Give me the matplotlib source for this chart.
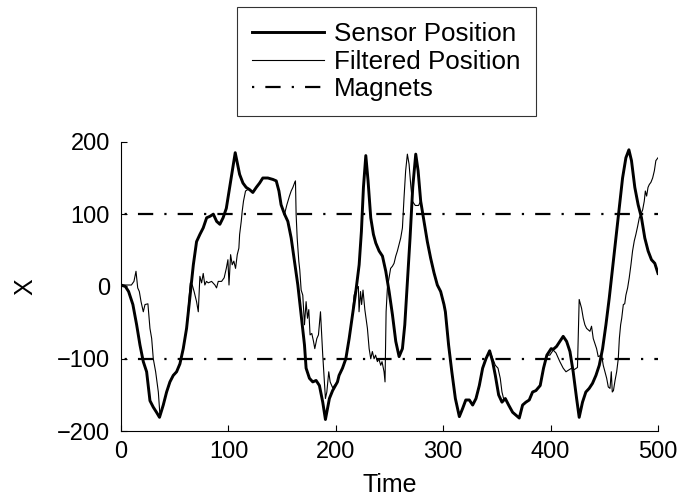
import matplotlib
matplotlib.use("Agg")
import matplotlib.pyplot as plt
from matplotlib.lines import Line2D

plt.rcParams['font.family'] = ['Liberation Sans', 'DejaVu Sans']
plt.rcParams['lines.scale_dashes'] = False

# Raw sensor readings (time, X)
sensor_t = [0, 4, 7, 11, 14.5, 17.6, 20.7, 23.8, 26.9, 30, 33, 35.8, 39.3, 42.4, 45.5,
            48.6, 51.7, 54.8, 57.9, 61, 64, 67.3, 70.3, 73.4, 76.5, 79.7, 82.8, 85.9, 89,
            92, 95, 98, 102, 106.3, 110.4, 113.5, 116.5, 119.6, 122.7, 125.9, 129, 132,
            136.7, 141.4, 144.5, 147, 149, 152.2, 155.3, 158.4, 161.5, 164.6, 167.7, 170.8,
            172.3, 175.4, 178.5, 181.6, 184.7, 187.8, 190.3, 194, 197, 201.5, 203, 206.2,
            209.3, 212.4, 215.5, 218.6, 221.7, 223.8, 225.7, 227.9, 230, 232.5, 235, 237.2,
            240.3, 243.4, 246.5, 249.6, 252.7, 255.8, 258.9, 262, 264.2, 266.6, 269.1, 271.6,
            274.4, 276.6, 279, 282.1, 285.2, 288.3, 291.4, 294.5, 297.6, 300.7, 302, 305,
            308, 311.3, 315, 318, 321, 324.3, 327.4, 330.5, 333.6, 336.7, 339.8, 343.2, 346,
            348.5, 351.6, 354.7, 357.8, 360.9, 364.6, 367.7, 370.8, 373.9, 377, 380.1, 383.2,
            386.3, 390.3, 393.4, 396.5, 400.5, 402.4, 405.5, 408.6, 411.7, 414.9, 418, 421,
            424.2, 426.6, 429.7, 432.8, 435.9, 439, 442.2, 445.3, 448.4, 451.5, 454.6, 457.7,
            460.8, 463.9, 467, 470.1, 472.9, 475.3, 478.4, 481.5, 484.6, 487.7, 490.8, 493.9,
            497, 500]
sensor_x = [2, 0, -7, -25, -53, -81, -104, -118, -158, -167, -174, -181, -164, -146, -132,
            -123, -118, -107, -86, -58, -16, 30, 62, 72, 81, 95, 97, 100, 90,
            86, 95, 108, 145, 185, 155, 143, 137, 134, 130, 137, 143, 150,
            150, 148, 146, 132, 113, 100, 90, 67, 35, 2, -39, -81,
            -113, -127, -132, -130, -137, -160, -184, -155, -144, -132, -123, -113,
            -100, -72, -39, -7, 30, 76, 137, 181, 146, 95, 72, 60,
            49, 42, 21, -7, -39, -76, -97, -86, -53, 7, 67, 137,
            183, 160, 118, 90, 62, 39, 19, 2, -7, -25, -35, -81,
            -118, -155, -180, -169, -157, -157, -164, -155, -137, -113, -100, -89, -104,
            -123, -150, -160, -155, -164, -174, -178, -182, -164, -160, -157, -146,
            -144, -137, -113, -95, -86, -87, -83, -76, -69, -76, -90, -118,
            -155, -181, -160, -146, -141, -134, -123, -109, -86, -53, -16, 25,
            67, 109, 150, 178, 189, 174, 137, 113, 95, 67, 49, 37,
            32, 18]

# Filtered estimate (time, X)
filtered_t = [0, 9.6, 12, 13.9, 15.5, 17, 18.6, 20.7, 22.3, 25, 26.9, 28.5, 30, 32.2, 34.7,
              36.2, 39.3, 42.4, 45.5, 48.6, 51.7, 54.8, 57.9, 61, 62, 64.5, 66.3, 68, 70.3,
              71.9, 73.4, 75, 76.5, 78, 79.5, 81.2, 84.3, 87.4, 88.9, 90.5, 93.6, 96, 98,
              99.5, 100.5, 102, 103.5, 105, 106.6, 108.2, 109.7, 110.4, 111.9, 112.8, 114,
              115.9, 118, 119.6, 122.7, 125.9, 129, 132, 136.7, 141.4, 144.5, 147, 149,
              152.2, 154.4, 156.8, 158.4, 160, 161.5, 162.4, 163, 164, 165.5, 166.4, 167.7,
              169.2, 170.8, 172.3, 173.6, 174.8, 176, 177.6, 179.2, 180.4, 182.3, 183.8,
              185.7, 186.6, 187.8, 189.1, 190.3, 191.6, 193.4, 194.7, 197, 201.5, 203, 206.2,
              209.3, 212.4, 215.5, 217, 218.6, 220, 221, 221.6, 223, 224, 225.3, 227, 229.4,
              231, 232.5, 234, 235.6, 237, 238.7, 240, 241.8, 243, 244.9, 245.8, 246.8, 248,
              249.6, 251, 252.7, 254.2, 255.8, 257.3, 258.9, 260.4, 262, 263.5, 265, 266.6,
              268.2, 269.7, 271.2, 274, 277, 279, 282.1, 285.2, 288.3, 291.4, 294.5, 297.6,
              300.7, 302, 305, 308, 311.3, 315, 318, 321, 324.3, 327.4, 330.5, 333.6, 336.7,
              339.8, 343.2, 345.4, 348.5, 351, 353.1, 354.7, 356.2, 357.8, 360.9, 364.6,
              367.7, 370.8, 373.9, 377, 380.1, 383.2, 386.3, 390.3, 393.4, 396.5, 399.3,
              402.4, 405, 408.6, 411.7, 414.3, 416.4, 419.5, 422, 425, 426.6, 428.8, 430.4,
              431.9, 433.5, 436.6, 438.1, 439.7, 442.8, 444.3, 447.5, 449, 450.6, 452.2,
              453.7, 455.3, 456.5, 457.4, 458.5, 460, 461.5, 463, 464, 465.2, 466.2, 467.7,
              469, 470.1, 471.7, 473.2, 474.8, 476.3, 477.9, 479.4, 481, 482.6, 484.1, 485.7,
              487.2, 488.2, 489.4, 490.7, 491.9, 493.4, 495, 496.6, 498, 500]
filtered_x = [2, 2, 7, 21, -2, -7, -21, -35, -25, -24, -58, -72, -100, -118, -146,
              -178, -164, -146, -132, -123, -118, -107, -86, -58, -40, 5, 2, -7, -21,
              -35, 14, 5, 18, 2, 7, 5, 7, 2, -2, 7, 7, 12, 25,
              37, 2, 44, 30, 35, 25, 44, 53, 72, 90, 104, 118,
              132, 134, 134, 130, 137, 143, 150, 150, 148, 146, 132, 113,
              100, 113, 125, 132, 137, 143, 146, 100, 67, 35, 23, -5,
              -12, -53, -21, -44, -32, -67, -65, -76, -86, -72, -67,
              -35, -62, -95, -127, -155, -146, -118, -132, -140, -132, -123, -113,
              -100, -72, -39, -12, -5, -2, 0, -35, -7, -25, -5, -32, -58,
              -86, -100, -90, -100, -95, -104, -100, -109, -104, -118, -132, -35, -2,
              12, 25, 28, 32, 42, 49, 58, 67, 81, 123, 160, 183,
              169, 141, 118, 112, 112, 118, 90, 62, 39, 19, 2, -7,
              -25, -35, -81, -118, -155, -180, -169, -157, -157, -164, -155, -137, -113,
              -100, -89, -97, -109, -113, -127, -146, -155, -155, -164, -174,
              -178, -182, -164, -160, -157, -146, -144, -137, -113, -95, -95,
              -88, -92, -104, -113, -118, -116, -113, -115, -112, -18, -30, -44,
              -53, -58, -62, -55, -72, -86, -97, -95, -109, -118, -127,
              -139, -141, -118, -146, -144, -130, -118, -100, -72, -53, -44, -25,
              -24, -12, -2, 12, 30, 49, 63, 72, 83, 95, 100, 106,
              118, 132, 125, 137, 141, 144, 150, 160, 174, 178]

# Magnet positions along X
magnet_levels = [100, -100]
time_range = [0, 500]

dash_dot = (11, 8, 1.6, 8)

fig = plt.figure(figsize=(6.84, 5.03), dpi=100)
ax = fig.add_axes([0.177, 0.143, 0.785, 0.575])

ax.plot(sensor_t, sensor_x, color='black', lw=2.1)
ax.plot(filtered_t, filtered_x, color='black', lw=0.8)
for lvl in magnet_levels:
    ax.plot(time_range, [lvl, lvl], color='black', lw=1.6,
            linestyle=(16.4, dash_dot))

ax.set_xlim(0, 500)
ax.set_ylim(-200, 200)
ax.set_xticks([0, 100, 200, 300, 400, 500])
ax.set_yticks([-200, -100, 0, 100, 200])
for side in ('top', 'right'):
    ax.spines[side].set_visible(False)
for side in ('left', 'bottom'):
    ax.spines[side].set_linewidth(0.8)
ax.tick_params(direction='in', length=4, width=0.8, labelsize=17)
ax.tick_params(axis='x', pad=7)
ax.tick_params(axis='y', pad=8)
ax.set_xlabel('Time', fontsize=18, labelpad=7)
ax.set_ylabel('X', fontsize=18, labelpad=14)

# Legend entries
handles = [
    Line2D([], [], color='black', lw=2.1),
    Line2D([], [], color='black', lw=0.8),
    Line2D([], [], color='black', lw=1.6, linestyle=(19, dash_dot)),
]
labels = ['Sensor Position', 'Filtered Position', 'Magnets']
leg = fig.legend(handles, labels,
                 loc='upper left', bbox_to_anchor=(0.346, 0.986),
                 fontsize=18.7, frameon=True, fancybox=False, shadow=False,
                 handlelength=2.8, handletextpad=0.38, borderpad=0.58,
                 labelspacing=0.14, borderaxespad=0)
leg.get_frame().set_edgecolor('black')
leg.get_frame().set_linewidth(0.8)

fig.savefig('out.png', dpi=100)
